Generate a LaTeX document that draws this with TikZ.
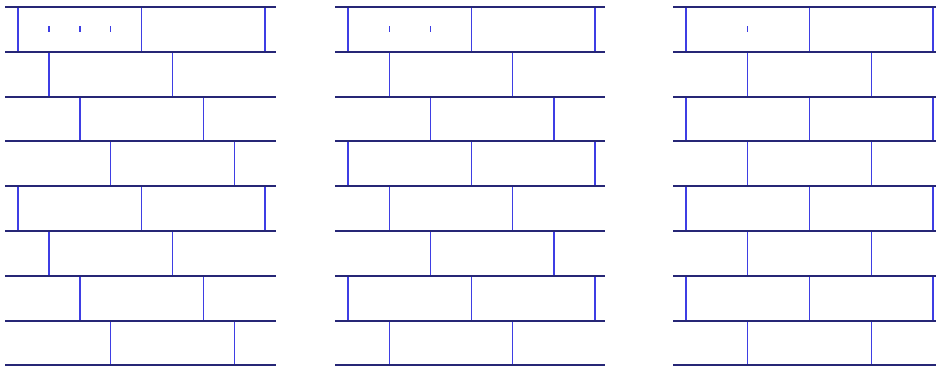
\documentclass[tikz,border=0pt]{standalone}
\definecolor{mortar}{RGB}{38,38,118}
\definecolor{jointblue}{RGB}{62,62,228}

% left edge, right edge, first joint, shift per course, period
\newcommand{\brickpanel}[5]{%
  \begin{scope}
    \clip (#1,0) rectangle (#2,365);
    \foreach \r in {0,...,7}
      \foreach \k in {-1,...,2}
        \draw[headjoint] ({#3+#4*mod(\r,#5)+123.5*\k},{7+44.8*\r}) -- ++(0,44.8);
    \foreach \r in {0,...,8}
      \draw[course] (#1,{7+44.8*\r}) -- (#2,{7+44.8*\r});
    \pgfmathtruncatemacro\lastmark{#5-1}
    \foreach \t in {1,...,\lastmark}
      \draw[marker] ({#3+#4*\t},26) -- ++(0,6);
  \end{scope}}

\begin{document}
\begin{tikzpicture}[x=1pt,y=-1pt,
    course/.style={draw=mortar,line width=2pt},
    headjoint/.style={draw=jointblue,line width=1.4pt},
    marker/.style={draw=jointblue,line width=1.4pt}]
  \useasboundingbox (0,0) rectangle (936,365);
  \clip (0,0) rectangle (936,365);
  \brickpanel{5}{276}{18}{30.9}{4}
  \brickpanel{335}{605}{348}{41.2}{3}
  \brickpanel{673}{944}{686}{61.75}{2}
\end{tikzpicture}
\end{document}
